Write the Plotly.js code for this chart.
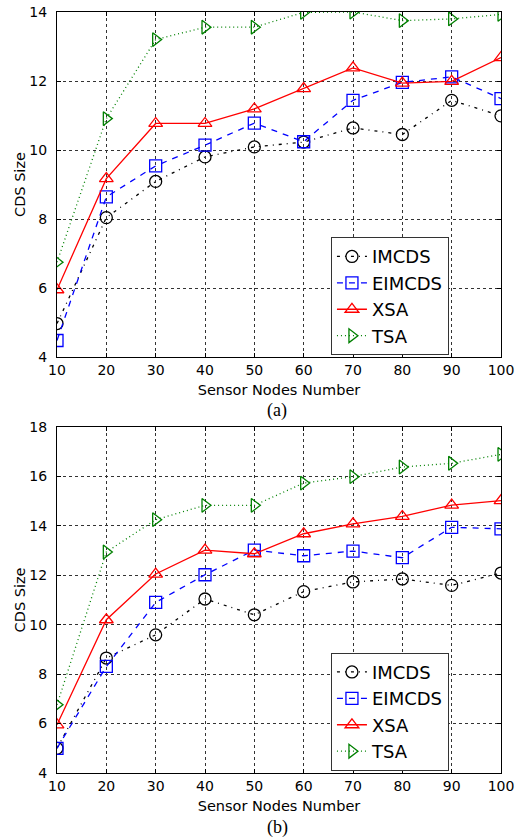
<!DOCTYPE html>
<html>
<head>
<meta charset="utf-8">
<script src="https://cdn.plot.ly/plotly-3.0.1.min.js"></script>
<style>html,body{margin:0;padding:0;background:#fff;}#chart{width:525px;height:840px;}</style>
</head>
<body>
<div id="chart"></div>
<script>
const nodes = [10, 20, 30, 40, 50, 60, 70, 80, 90, 100];
const seriesNames = ["IMCDS", "EIMCDS", "XSA", "TSA"];

// Panel (a)
const imcdsA  = [4.97, 8.04, 9.09, 9.80, 10.09, 10.23, 10.64, 10.45, 11.44, 10.99];
const eimcdsA = [4.48, 8.64, 9.54, 10.14, 10.78, 10.24, 11.44, 11.96, 12.12, 11.49];
const xsaA    = [5.95, 9.17, 10.77, 10.77, 11.19, 11.78, 12.38, 11.94, 11.99, 12.68];
const tsaA    = [6.75, 10.91, 13.20, 13.56, 13.56, 13.99, 14.00, 13.75, 13.80, 13.93];

// Panel (b)
const imcdsB  = [5.00, 8.65, 9.59, 11.04, 10.40, 11.34, 11.73, 11.85, 11.59, 12.09];
const eimcdsB = [5.00, 8.31, 10.90, 12.02, 13.02, 12.79, 12.98, 12.71, 13.94, 13.88];
const xsaB    = [5.95, 10.20, 12.05, 13.02, 12.87, 13.68, 14.08, 14.38, 14.84, 15.02];
const tsaB    = [6.76, 12.94, 14.25, 14.83, 14.83, 15.73, 15.99, 16.38, 16.53, 16.89];

const styles = [
  {color: "#000000", dash: "3px,5px,1px,5px", symbol: "circle-open"},
  {color: "#0000ff", dash: "6px,6px", symbol: "square-open"},
  {color: "#ff0000", dash: "solid", symbol: "triangle-up-open"},
  {color: "#008000", dash: "1px,3px", symbol: "triangle-right-open"}
];

function mk(y, i, xa, ya, leg) {
  const s = styles[i];
  return {
    x: nodes, y: y, name: seriesNames[i], type: "scatter", mode: "lines+markers",
    xaxis: xa, yaxis: ya, legend: leg,
    line: {color: s.color, width: 1.3, dash: s.dash},
    marker: {symbol: s.symbol, size: 12, color: s.color, line: {width: 1.3, color: s.color}}
  };
}

const traces = [
  mk(imcdsA, 0, "x", "y", "legend"),
  mk(eimcdsA, 1, "x", "y", "legend"),
  mk(xsaA, 2, "x", "y", "legend"),
  mk(tsaA, 3, "x", "y", "legend"),
  mk(imcdsB, 0, "x2", "y2", "legend2"),
  mk(eimcdsB, 1, "x2", "y2", "legend2"),
  mk(xsaB, 2, "x2", "y2", "legend2"),
  mk(tsaB, 3, "x2", "y2", "legend2")
];

const font = {family: "DejaVu Sans", color: "#000"};
function xax(anchor) {
  return {
    anchor: anchor, domain: [0, 1], range: [10, 100], dtick: 10, tick0: 10,
    showline: true, linecolor: "#000", linewidth: 1, mirror: "allticks",
    ticks: "inside", ticklen: 4, tickcolor: "#000",
    showgrid: true, gridcolor: "#333", griddash: "dot", gridwidth: 1,
    zeroline: false, tickfont: {family: font.family, size: 14, color: "#000"},
    ticklabelstandoff: 0,
    title: {text: "Sensor Nodes Number", font: {family: font.family, size: 14.5, color: "#000"}, standoff: 8},
    automargin: false
  };
}
function yax(anchor, domain, range) {
  return {
    anchor: anchor, domain: domain, range: range, dtick: 2,
    showline: true, linecolor: "#000", linewidth: 1, mirror: "allticks",
    ticks: "inside", ticklen: 4, tickcolor: "#000",
    showgrid: true, gridcolor: "#333", griddash: "dot", gridwidth: 1,
    zeroline: false, tickfont: {family: font.family, size: 14, color: "#000"},
    ticklabelstandoff: 6,
    title: {text: "CDS Size", font: {family: font.family, size: 14.5, color: "#000"}, standoff: 0},
    automargin: false
  };
}

const legendStyle = (y) => ({
  x: 0.617, y: y, xanchor: "left", yanchor: "top", xref: "paper", yref: "paper",
  bgcolor: "#fff", bordercolor: "#333", borderwidth: 1,
  font: {family: font.family, size: 18, color: "#000"},
  tracegroupgap: 0
});

const layout = {
  width: 525, height: 840,
  margin: {l: 57, r: 24, t: 12, b: 67},
  paper_bgcolor: "#fff", plot_bgcolor: "#fff",
  font: font,
  showlegend: true,
  xaxis: xax("y"),
  yaxis: yax("x", [0.5466, 1], [4, 14]),
  xaxis2: xax("y2"),
  yaxis2: yax("x2", [0, 0.4547], [4, 18]),
  legend: legendStyle(0.704),
  legend2: legendStyle(0.158),
  annotations: [
    {text: "(a)", xref: "paper", yref: "paper", x: 0.4955, y: 0.477, xanchor: "center", yanchor: "middle",
     showarrow: false, font: {family: "Liberation Serif", size: 18, color: "#000"}},
    {text: "(b)", xref: "paper", yref: "paper", x: 0.4955, y: -0.071, xanchor: "center", yanchor: "middle",
     showarrow: false, font: {family: "Liberation Serif", size: 18, color: "#000"}}
  ]
};

Plotly.newPlot("chart", traces, layout, {displayModeBar: false, staticPlot: true});
</script>
</body>
</html>
